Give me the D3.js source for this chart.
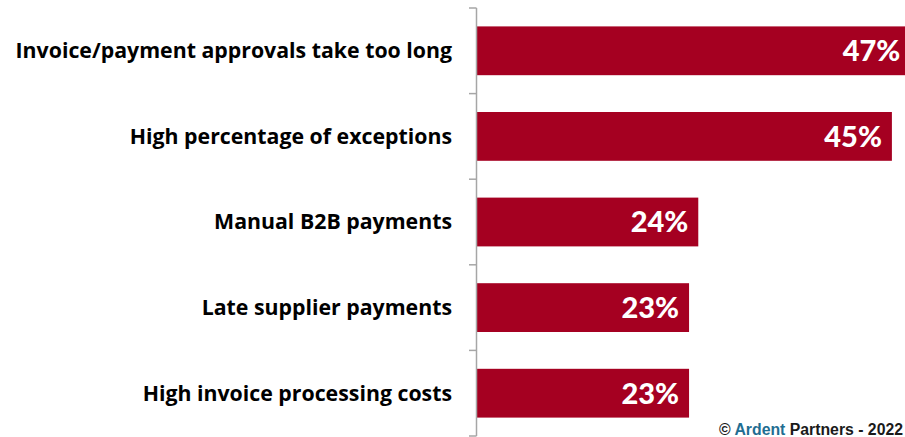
<!DOCTYPE html>
<html>
<head>
<meta charset="utf-8">
<script src="https://cdn.jsdelivr.net/npm/d3@7"></script>
<style>
  html, body { margin: 0; padding: 0; background: #fff; }
  svg { display: block; }
</style>
</head>
<body>
<svg id="chart" width="905" height="437"></svg>
<script>
// Challenges reported in accounts payable (share of respondents)
const categories = [
  "Invoice/payment approvals take too long",
  "High percentage of exceptions",
  "Manual B2B payments",
  "Late supplier payments",
  "High invoice processing costs"
];
const values = [47, 45, 24, 23, 23];
const valueLabels = ["47%", "45%", "24%", "23%", "23%"];

const W = 905, H = 437;
const axisX = 477;
const svg = d3.select("#chart");

const x = d3.scaleLinear().domain([0, 50]).range([axisX, axisX + 461]);

// Category slots (tick marks sit on slot boundaries)
const slot = d3.scaleBand().domain(categories).range([8, 436]).padding(0);
// Bars inside each slot
const y = d3.scaleBand().domain(categories).range([8, 436])
  .paddingInner(0.43).paddingOuter(0.215);

const barColor = "#A50021";
const axisColor = "#A6A6A6";

const data = categories.map((c, i) => ({ c, v: values[i], label: valueLabels[i] }));

// Bars
svg.append("g").selectAll("rect").data(data).join("rect")
  .attr("x", axisX)
  .attr("y", d => y(d.c))
  .attr("width", d => x(d.v) - axisX)
  .attr("height", y.bandwidth())
  .attr("fill", barColor);

// Axis line and tick marks at slot boundaries
const g = svg.append("g");
g.append("line")
  .attr("x1", axisX - 0.5).attr("x2", axisX - 0.5)
  .attr("y1", slot.range()[0]).attr("y2", slot.range()[1])
  .attr("stroke", axisColor).attr("stroke-width", 1.5);
const tickYs = categories.map(c => slot(c)).concat([slot.range()[1]]);
g.selectAll("line.tick").data(tickYs).join("line")
  .attr("class", "tick")
  .attr("x1", axisX - 8).attr("x2", axisX - 0.5)
  .attr("y1", d => d).attr("y2", d => d)
  .attr("stroke", axisColor).attr("stroke-width", 1.5);

// Category labels
svg.append("g").selectAll("text").data(data).join("text")
  .attr("x", 452)
  .attr("y", d => y(d.c) + y.bandwidth() / 2)
  .attr("dy", "0.35em")
  .attr("text-anchor", "end")
  .style("font-family", "'Open Sans', Lato, sans-serif")
  .style("font-weight", "bold")
  .style("font-size", "21.3px")
  .attr("fill", "#000")
  .text(d => d.c);

// Value labels inside bar ends
svg.append("g").selectAll("text").data(data).join("text")
  .attr("x", d => x(d.v) - 10)
  .attr("y", d => y(d.c) + y.bandwidth() / 2)
  .attr("dy", "0.36em")
  .attr("text-anchor", "end")
  .style("font-family", "Lato, 'Open Sans', sans-serif")
  .style("font-weight", "900")
  .style("font-size", "29px")
  .attr("fill", "#fff")
  .text(d => d.label);

// Source note
const note = svg.append("text")
  .attr("x", 903).attr("y", 435)
  .attr("text-anchor", "end")
  .style("font-family", "'Liberation Sans', Arial, sans-serif")
  .style("font-weight", "bold")
  .style("font-size", "15.8px")
  .attr("fill", "#1a1a1a");
note.append("tspan").text("© ");
note.append("tspan").attr("fill", "#1F6E92").text("Ardent");
note.append("tspan").text(" Partners - 2022");
</script>
</body>
</html>
